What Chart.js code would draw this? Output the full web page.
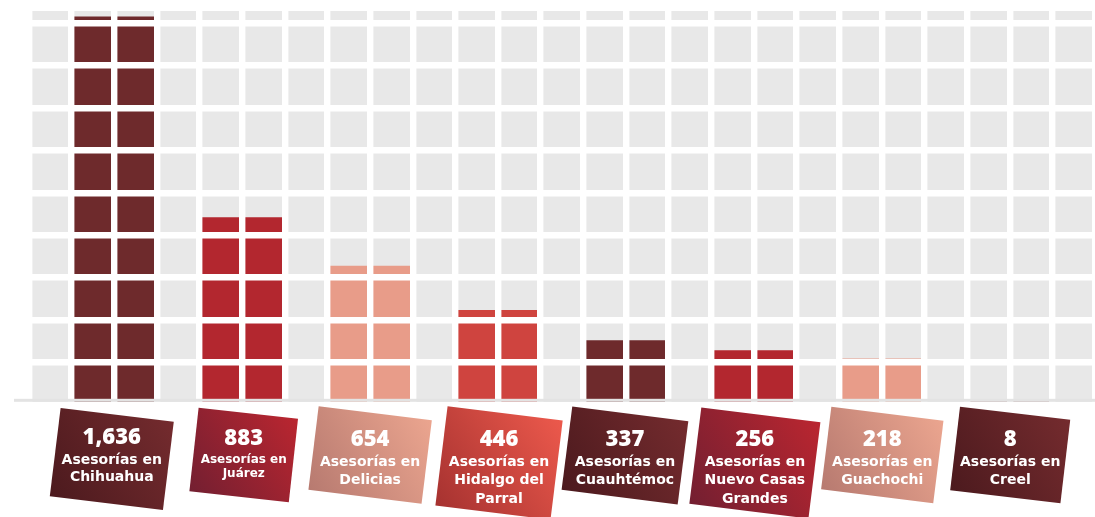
<!DOCTYPE html>
<html>
<head>
<meta charset="utf-8">
<script src="https://cdn.jsdelivr.net/npm/chart.js@4"></script>
<style>
  html, body { margin: 0; padding: 0; background: #fff; }
</style>
</head>
<body>
<canvas id="myChart" width="1095" height="517"></canvas>
<script>
// municipios
const municipios = ['Chihuahua', 'Juárez', 'Delicias', 'Hidalgo del Parral', 'Cuauhtémoc', 'Nuevo Casas Grandes', 'Guachochi', 'Creel'];
// número de asesorías (texto de cada tarjeta)
const asesorias = [1636, 883, 654, 446, 337, 256, 218, 8];
// altura de cada barra (Chihuahua y Cuauhtémoc no van a escala en el original)
const alturas = [1828, 883, 654, 446, 304, 256, 218, 8];
// texto bajo el número
const lineas = [
  ['Asesorías en', 'Chihuahua'],
  ['Asesorías en', 'Juárez'],
  ['Asesorías en', 'Delicias'],
  ['Asesorías en', 'Hidalgo del', 'Parral'],
  ['Asesorías en', 'Cuauhtémoc'],
  ['Asesorías en', 'Nuevo Casas', 'Grandes'],
  ['Asesorías en', 'Guachochi'],
  ['Asesorías en', 'Creel']
];
const yMax = 1856;
const paso = 200;

const colorBarra = ['#6e2a2c', '#b3272f', '#e89c89', '#cf443f', '#6e2a2c', '#b3272f', '#e89c89', '#6e2a2c'];

// tarjetas (estilo)
const oscuro = ['#4c1a1e', '#742b2e'];
const rojo = ['#731f31', '#ba2630'];
const rosa = ['#b77a70', '#eba58f'];
const coral = ['#a63230', '#ec594c'];
const estilos = [
  { dx: -2.5, dy: 54, w: 114, h: 89, ang: 7, c: oscuro, ty: 33, l0: 22, lh: 17, fs: 14 },
  { dx: 1.5, dy: 50, w: 100, h: 84, ang: 6.3, c: rojo, ty: 34, l0: 21, lh: 14, fs: 12 },
  { dx: 0, dy: 50, w: 114, h: 84, ang: 7, c: rosa, ty: 35, l0: 22, lh: 18, fs: 14 },
  { dx: 1, dy: 58, w: 116, h: 100, ang: 7, c: coral, ty: 35, l0: 22, lh: 18.5, fs: 14 },
  { dx: -1, dy: 50.5, w: 117, h: 84, ang: 7.3, c: oscuro, ty: 35, l0: 22, lh: 18, fs: 14 },
  { dx: 1, dy: 58, w: 120, h: 97, ang: 7.1, c: rojo, ty: 35, l0: 22, lh: 18.5, fs: 14 },
  { dx: 0.5, dy: 50, w: 113, h: 83, ang: 7.1, c: rosa, ty: 35, l0: 22, lh: 18, fs: 14 },
  { dx: 0.5, dy: 50, w: 111, h: 84, ang: 6.7, c: oscuro, ty: 35, l0: 22, lh: 18, fs: 14 }
];

// 25 columnas: hueco, dos barras por municipio, hueco...
const columnas = [''];
const valores = [null];
const colores = ['#fff'];
municipios.forEach((m, i) => {
  columnas.push(m, m, '');
  valores.push(alturas[i], alturas[i], null);
  colores.push(colorBarra[i], colorBarra[i], '#fff');
});
const fondo = columnas.map(() => yMax);

const tarjetas = {
  id: 'tarjetas',
  afterDraw(chart) {
    const { ctx, scales: { x, y } } = chart;
    const y0 = y.getPixelForValue(0);
    ctx.save();
    // línea base
    ctx.fillStyle = '#e3e3e3';
    ctx.fillRect(14, y0 - 6.2, chart.width - 14, 3);

    municipios.forEach((m, i) => {
      const e = estilos[i];
      const cx = (x.getPixelForValue(3 * i + 1) + x.getPixelForValue(3 * i + 2)) / 2 + e.dx;
      ctx.save();
      ctx.translate(cx, y0 + e.dy);
      ctx.rotate(e.ang * Math.PI / 180);
      const g = ctx.createLinearGradient(-e.w / 2, e.h / 2, e.w / 2, -e.h / 2);
      g.addColorStop(0, e.c[0]);
      g.addColorStop(1, e.c[1]);
      ctx.fillStyle = g;
      ctx.fillRect(-e.w / 2, -e.h / 2, e.w, e.h);
      ctx.restore();

      ctx.fillStyle = '#fff';
      ctx.textAlign = 'center';
      ctx.textBaseline = 'middle';
      ctx.font = '800 22px "Open Sans"';
      ctx.fillText(asesorias[i].toLocaleString('en-US'), cx, y0 + e.ty);
      ctx.font = 'bold ' + e.fs + 'px "DejaVu Sans"';
      lineas[i].forEach((t, j) => {
        ctx.fillText(t, cx, y0 + e.ty + e.l0 + j * e.lh);
      });
    });
    ctx.restore();
  }
};

const config = {
  type: 'bar',
  data: {
    labels: columnas,
    datasets: [
      {
        data: valores,
        backgroundColor: colores,
        barPercentage: 1,
        categoryPercentage: 1,
        grouped: false,
        order: 0
      },
      {
        data: fondo,
        backgroundColor: '#e8e8e8',
        barPercentage: 1,
        categoryPercentage: 1,
        grouped: false,
        order: 1
      }
    ]
  },
  options: {
    responsive: false,
    animation: false,
    layout: { padding: { left: 29, right: 0, top: 11, bottom: 112 } },
    plugins: {
      legend: { display: false },
      tooltip: { enabled: false }
    },
    scales: {
      x: {
        ticks: { display: false },
        grid: { color: '#fff', lineWidth: 6.4, z: 1, drawTicks: false, offset: true },
        border: { display: false },
        afterFit: s => { s.height = 0; }
      },
      y: {
        min: 0,
        max: yMax,
        ticks: { display: false, stepSize: paso },
        afterBuildTicks: s => {
          const t = [];
          for (let v = 0; v < yMax; v += paso) t.push({ value: v });
          s.ticks = t;
        },
        grid: { color: '#fff', lineWidth: 6.4, z: 1, drawTicks: false },
        border: { display: false },
        afterFit: s => { s.width = 0; }
      }
    }
  },
  plugins: [tarjetas]
};

var myChart = new Chart(document.getElementById('myChart'), config);
</script>
</body>
</html>
